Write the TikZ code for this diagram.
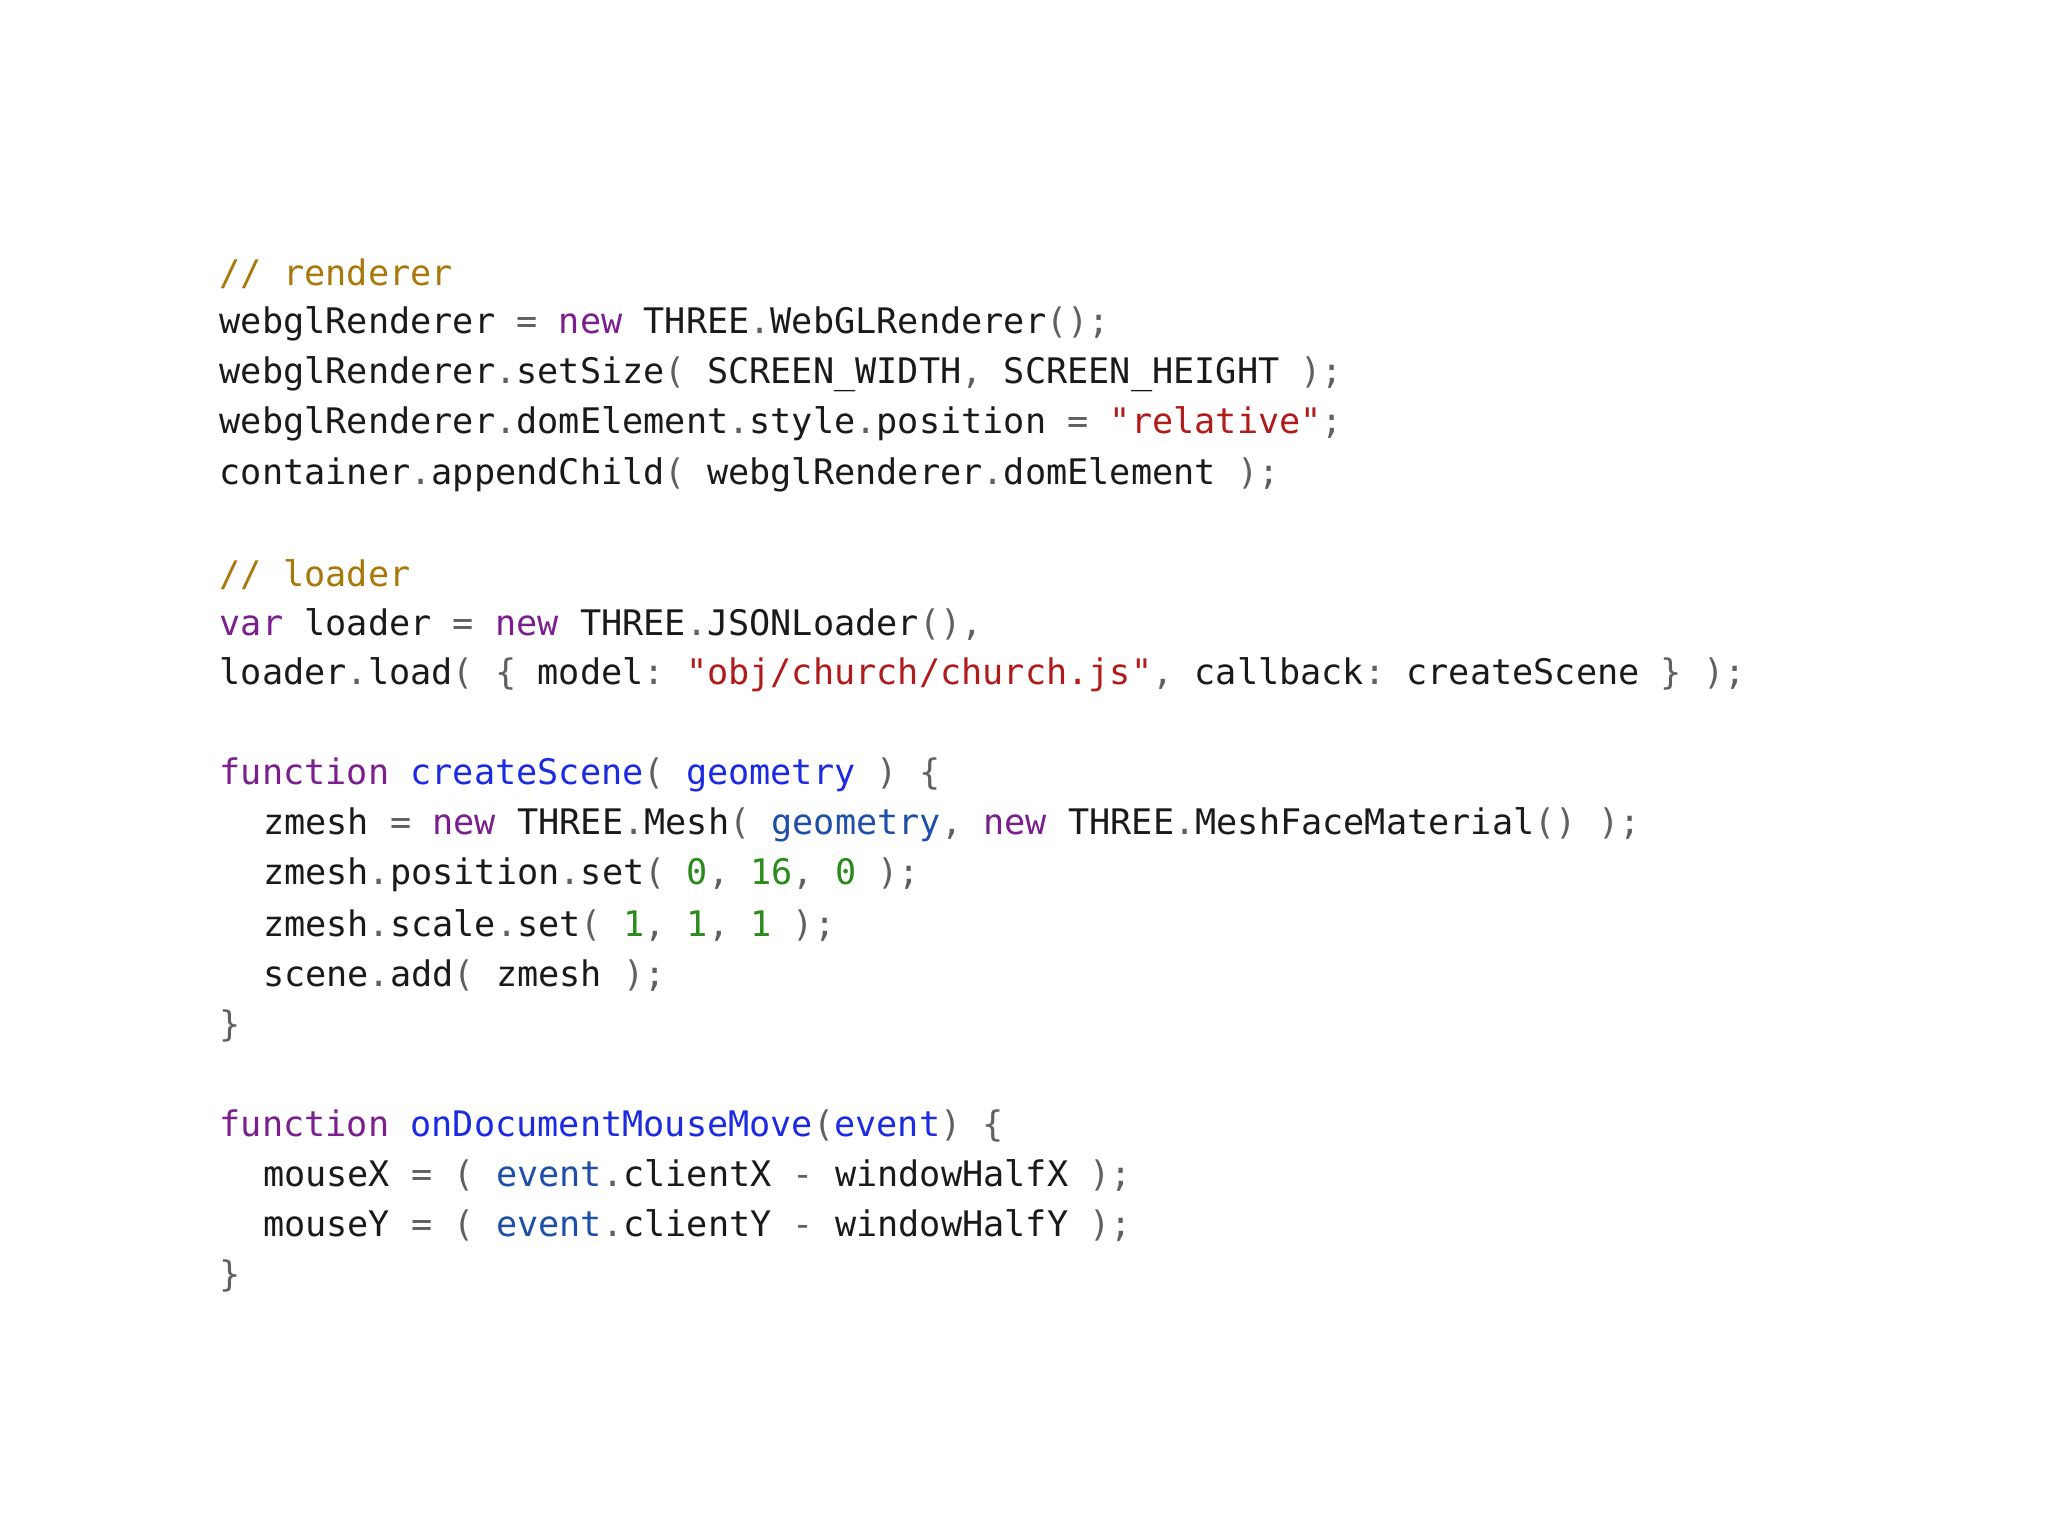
\documentclass[tikz,border=0pt]{standalone}
\usepackage{fontspec}
\setmonofont{DejaVu Sans Mono}
\definecolor{cm}{HTML}{A8780A}
\definecolor{kw}{HTML}{7B1F8E}
\definecolor{fn}{HTML}{1C2BE0}
\definecolor{pa}{HTML}{1F4FA8}
\definecolor{st}{HTML}{B01C1C}
\definecolor{nu}{HTML}{2A8A1A}
\definecolor{pu}{HTML}{606060}
\definecolor{tx}{HTML}{1A1A1A}
\newcommand\Kw[1]{\textcolor{kw}{#1}}
\newcommand\Fn[1]{\textcolor{fn}{#1}}
\newcommand\Pa[1]{\textcolor{pa}{#1}}
\newcommand\St[1]{\textcolor{st}{#1}}
\newcommand\Nu[1]{\textcolor{nu}{#1}}
\newcommand\Pu[1]{\textcolor{pu}{#1}}
\newcommand\Cm[1]{\textcolor{cm}{#1}}
\tikzset{code/.style={anchor=west,inner sep=0pt,font=\ttfamily\fontsize{17.6}{20}\selectfont,text=tx}}
\begin{document}
\begin{tikzpicture}[x=1pt,y=1pt]
\useasboundingbox (0,0) rectangle (1024,-768);
\def\L{109.7}\def\I{131.3}
\newcommand\ly[1]{-137-25.05*#1}
\node[code] (l0) at (\L,{\ly{0}}) {\Cm{// renderer}};
\node[code] (l1) at (\L,{\ly{1}}) {webglRenderer \Pu{=} \Kw{new} THREE\Pu{.}WebGLRenderer\Pu{();}};
\node[code] (l2) at (\L,{\ly{2}}) {webglRenderer\Pu{.}setSize\Pu{(} SCREEN\_WIDTH\Pu{,} SCREEN\_HEIGHT \Pu{);}};
\node[code] (l3) at (\L,{\ly{3}}) {webglRenderer\Pu{.}domElement\Pu{.}style\Pu{.}position \Pu{=} \St{"relative"}\Pu{;}};
\node[code] (l4) at (\L,{\ly{4}}) {container\Pu{.}appendChild\Pu{(} webglRenderer\Pu{.}domElement \Pu{);}};
\node[code] (l6) at (\L,{\ly{6}}) {\Cm{// loader}};
\node[code] (l7) at (\L,{\ly{7}}) {\Kw{var} loader \Pu{=} \Kw{new} THREE\Pu{.}JSONLoader\Pu{(),}};
\node[code] (l8) at (\L,{\ly{8}}) {loader\Pu{.}load\Pu{( \{} model\Pu{:} \St{"obj/church/church.js"}\Pu{,} callback\Pu{:} createScene \Pu{\} );}};
\node[code] (l10) at (\L,{\ly{10}}) {\Kw{function} \Fn{createScene}\Pu{(} \Fn{geometry} \Pu{) \{}};
\node[code] (l11) at (\I,{\ly{11}}) {zmesh \Pu{=} \Kw{new} THREE\Pu{.}Mesh\Pu{(} \Pa{geometry}\Pu{,} \Kw{new} THREE\Pu{.}MeshFaceMaterial\Pu{() );}};
\node[code] (l12) at (\I,{\ly{12}}) {zmesh\Pu{.}position\Pu{.}set\Pu{(} \Nu{0}\Pu{,} \Nu{16}\Pu{,} \Nu{0} \Pu{);}};
\node[code] (l13) at (\I,{\ly{13}}) {zmesh\Pu{.}scale\Pu{.}set\Pu{(} \Nu{1}\Pu{,} \Nu{1}\Pu{,} \Nu{1} \Pu{);}};
\node[code] (l14) at (\I,{\ly{14}}) {scene\Pu{.}add\Pu{(} zmesh \Pu{);}};
\node[code] (l15) at (\L,{\ly{15}}) {\Pu{\}}};
\node[code] (l17) at (\L,{\ly{17}}) {\Kw{function} \Fn{onDocumentMouseMove}\Pu{(}\Fn{event}\Pu{) \{}};
\node[code] (l18) at (\I,{\ly{18}}) {mouseX \Pu{= (} \Pa{event}\Pu{.}clientX \Pu{-} windowHalfX \Pu{);}};
\node[code] (l19) at (\I,{\ly{19}}) {mouseY \Pu{= (} \Pa{event}\Pu{.}clientY \Pu{-} windowHalfY \Pu{);}};
\node[code] (l20) at (\L,{\ly{20}}) {\Pu{\}}};
\end{tikzpicture}
\end{document}
